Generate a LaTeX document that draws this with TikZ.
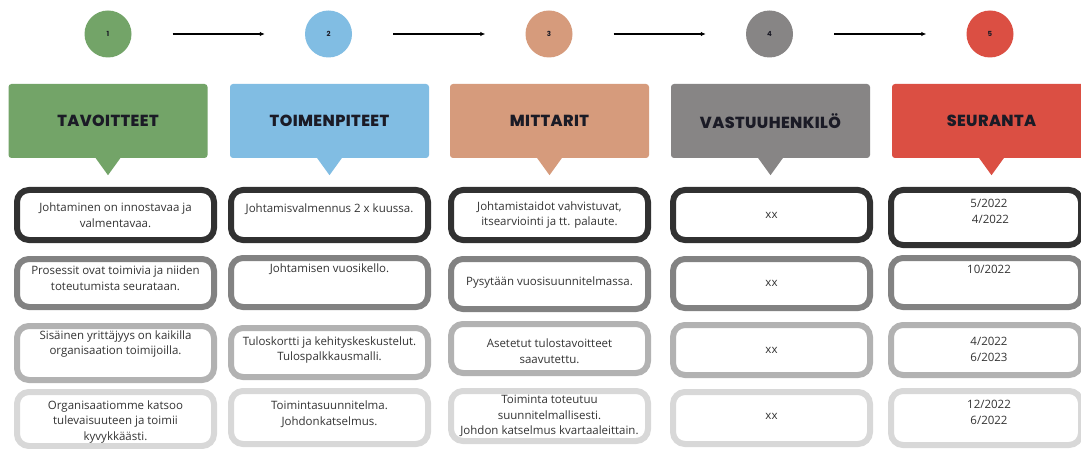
\documentclass[tikz,border=0pt]{standalone}
\usepackage{fontspec}
\setmainfont{Open Sans}
\newfontfamily\headfont{Poppins}[LetterSpace=2.5, BoldFont={* ExtraBold}]
\newfontfamily\numfont{Poppins}
\usetikzlibrary{arrows.meta}

\definecolor{cgreen}{HTML}{73A468}
\definecolor{cblue}{HTML}{81BDE3}
\definecolor{ctan}{HTML}{D69B7C}
\definecolor{cgray}{HTML}{878585}
\definecolor{cred}{HTML}{DB4F43}
\definecolor{headtext}{HTML}{1B1B26}
\definecolor{rowA}{HTML}{313131}
\definecolor{rowB}{HTML}{828282}
\definecolor{rowC}{HTML}{B2B2B2}
\definecolor{rowD}{HTML}{D8D8D8}
\definecolor{bodytext}{HTML}{333333}

\tikzset{
  stepdot/.style={circle, minimum size=47pt, inner sep=0pt,
    font=\numfont\bfseries\fontsize{7}{8}\selectfont, text=headtext},
  flow/.style={line width=1.3pt, -{Latex[length=5pt,width=4.5pt]},
    shorten <=41pt, shorten >=40pt},
  headbox/.style={rectangle, rounded corners=3pt, minimum width=199pt,
    minimum height=74pt, inner sep=0pt,
    font=\headfont\bfseries\fontsize{16}{18}\selectfont, text=headtext},
  cellbox/.style={rectangle, rounded corners=12pt, line width=6pt,
    fill=white, minimum width=197pt, inner sep=0pt},
  celltext/.style={align=center, inner sep=0pt, text=bodytext,
    font=\fontsize{11.5}{15.8}\selectfont}
}

\begin{document}
\begin{tikzpicture}[x=1pt, y=-1pt]
\useasboundingbox[fill=white] (0,0) rectangle (1081,449);

% numbered steps
\node[stepdot, fill=cgreen] (n1) at (108,34) {1};
\node[stepdot, fill=cblue]  (n2) at (328.5,34) {2};
\node[stepdot, fill=ctan]   (n3) at (549,34) {3};
\node[stepdot, fill=cgray]  (n4) at (769.5,34) {4};
\node[stepdot, fill=cred]   (n5) at (990,34) {5};
\draw[flow] (n1) -- (n2);
\draw[flow] (n2) -- (n3);
\draw[flow] (n3) -- (n4);
\draw[flow] (n4) -- (n5);

% column headers with pointers
\foreach \nm/\cx/\col/\lbl in {h1/108/cgreen/TAVOITTEET, h2/329.5/cblue/TOIMENPITEET,
    h3/549.5/ctan/MITTARIT, h4/770.5/cgray/VASTUUHENKILÖ, h5/991.5/cred/SEURANTA}{
  \node[headbox, fill=\col] (\nm) at (\cx,121) {\lbl};
  \fill[\col] ([xshift=-13pt,yshift=1pt]\nm.south) -- ([xshift=13pt,yshift=1pt]\nm.south)
    -- ([yshift=-17pt]\nm.south) -- cycle;
}

% row 1
\node[cellbox, draw=rowA, minimum height=50pt] (b11) at (115.5,215) {};
\node[cellbox, draw=rowA, minimum height=50pt] (b12) at (329.5,215) {};
\node[cellbox, draw=rowA, minimum height=50pt] (b13) at (549.5,215) {};
\node[cellbox, draw=rowA, minimum height=50pt] (b14) at (771.5,215) {};
\node[cellbox, draw=rowA, minimum height=55pt, minimum width=190pt] (b15) at (986,217.5) {};
% row 2
\node[cellbox, draw=rowB, minimum height=48pt] (b21) at (115.5,283) {};
\node[cellbox, draw=rowB, minimum height=49pt] (b22) at (329.5,282.5) {};
\node[cellbox, draw=rowB, minimum height=50pt] (b23) at (549.5,284) {};
\node[cellbox, draw=rowB, minimum height=49pt] (b24) at (771.5,283.5) {};
\node[cellbox, draw=rowB, minimum height=49pt, minimum width=190pt] (b25) at (986,282.5) {};
% row 3
\node[cellbox, draw=rowC, minimum height=54pt] (b31) at (115.5,353) {};
\node[cellbox, draw=rowC, minimum height=49pt] (b32) at (329.5,352.5) {};
\node[cellbox, draw=rowC, minimum height=49pt] (b33) at (549.5,348.5) {};
\node[cellbox, draw=rowC, minimum height=50pt] (b34) at (771.5,350) {};
\node[cellbox, draw=rowC, minimum height=50pt, minimum width=190pt] (b35) at (986,350) {};
% row 4
\node[cellbox, draw=rowD, minimum height=54pt] (b41) at (115.5,419) {};
\node[cellbox, draw=rowD, minimum height=53pt] (b42) at (329.5,417.5) {};
\node[cellbox, draw=rowD, minimum height=50pt] (b43) at (549.5,416) {};
\node[cellbox, draw=rowD, minimum height=52pt] (b44) at (771.5,418) {};
\node[cellbox, draw=rowD, minimum height=54pt, minimum width=190pt] (b45) at (986,418) {};

% cell texts
\node[celltext] (t11) at (115.5,215) {Johtaminen on innostavaa ja\\valmentavaa.};
\node[celltext] (t12) at (329.5,209) {Johtamisvalmennus 2 x kuussa.};
\node[celltext] (t13) at (549.5,215) {Johtamistaidot vahvistuvat,\\itsearviointi ja tt. palaute.};
\node[celltext] (t14) at (771.5,215) {xx};
\node[celltext] (t15) at (989,211) {5/2022\\\ 4/2022};

\node[celltext] (t21) at (115.5,278.5) {Prosessit ovat toimivia ja niiden\\toteutumista seurataan.};
\node[celltext] (t22) at (329.5,269) {Johtamisen vuosikello.};
\node[celltext] (t23) at (549.5,283) {Pysytään vuosisuunnitelmassa.};
\node[celltext] (t24) at (771.5,283) {xx};
\node[celltext] (t25) at (989,269) {10/2022};

\node[celltext] (t31) at (115.5,344) {Sisäinen yrittäjyys on kaikilla\\organisaation toimijoilla.};
\node[celltext] (t32) at (329.5,350) {Tuloskortti ja kehityskeskustelut.\\Tulospalkkausmalli.};
\node[celltext] (t33) at (549.5,351) {Asetetut tulostavoitteet\\saavutettu.};
\node[celltext] (t34) at (771.5,350) {xx};
\node[celltext] (t35) at (989,349.5) {4/2022\\6/2023};

\node[celltext] (t41) at (115.5,422) {Organisaatiomme katsoo\\tulevaisuuteen ja toimii\\kyvykkäästi.};
\node[celltext] (t42) at (329.5,414) {Toimintasuunnitelma.\\Johdonkatselmus.};
\node[celltext] (t43) at (549.5,416) {Toiminta toteutuu\\suunnitelmallisesti.\\Johdon katselmus kvartaaleittain.};
\node[celltext] (t44) at (771.5,416) {xx};
\node[celltext] (t45) at (989,412.5) {12/2022\\6/2022};
\end{tikzpicture}
\end{document}
